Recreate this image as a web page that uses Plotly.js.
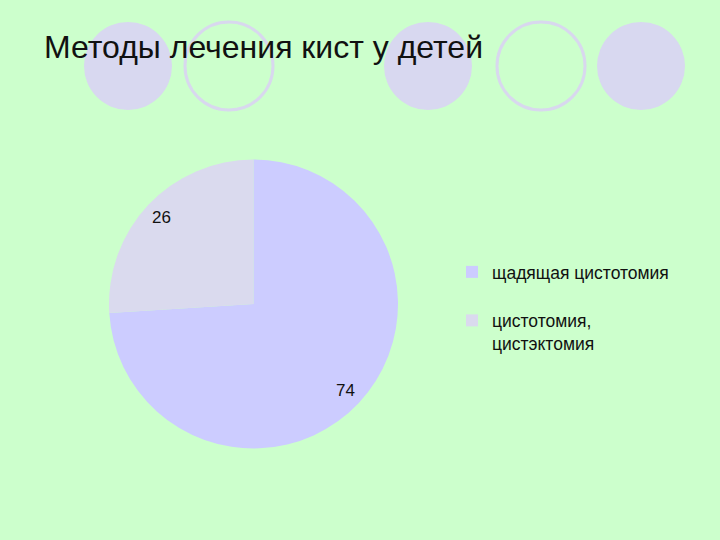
<!DOCTYPE html>
<html>
<head>
<meta charset="utf-8">
<script src="https://cdn.plot.ly/plotly-3.0.1.min.js"></script>
<style>html,body{margin:0;padding:0;background:#ccffcc;}#chart{width:720px;height:540px;}</style>
</head>
<body>
<div id="chart"></div>
<script>
const chartTitle = "Методы лечения кист у детей";
const categories = ["щадящая цистотомия<br> ", "цистотомия,<br>цистэктомия"];
const values = [74, 26];
const sliceColors = ["#ccccff", "#dadaee"];

const W = 720, H = 540;
const px = x => x / W;
const py = y => 1 - y / H;

// pie domain (pixels)
const pieL = 109, pieR = 398, pieT = 159, pieB = 449;
const pieCx = (pieL + pieR) / 2, pieCy = (pieT + pieB) / 2;
const pieRad = Math.min(pieR - pieL, pieB - pieT) / 2;

// decorative circles (pixel centers)
const deco = [
  {cx: 128, cy: 66, fill: true},
  {cx: 229, cy: 66, fill: false},
  {cx: 428, cy: 66, fill: true},
  {cx: 541, cy: 66, fill: false},
  {cx: 641, cy: 66, fill: true}
];
const r = 44;
const shapes = deco.map(d => ({
  type: "circle", xref: "paper", yref: "paper", layer: "below",
  x0: px(d.cx - r), x1: px(d.cx + r), y0: py(d.cy + r), y1: py(d.cy - r),
  fillcolor: d.fill ? "#d8d8f0" : "rgba(0,0,0,0)",
  line: {color: d.fill ? "rgba(0,0,0,0)" : "#d8d8ee", width: d.fill ? 0 : 3}
}));

// value labels placed near the outer edge along each slice's middle angle
const total = values.reduce((a, b) => a + b, 0);
let cum = 0;
const annotations = values.map(v => {
  const mid = (cum + v / 2) / total * 2 * Math.PI; // clockwise from top
  cum += v;
  const rr = 0.87 * pieRad;
  return {
    xref: "paper", yref: "paper", showarrow: false,
    x: px(pieCx + rr * Math.sin(mid)), y: py(pieCy - rr * Math.cos(mid)),
    xanchor: "center", yanchor: "middle",
    text: String(v),
    font: {family: "Liberation Sans, Arial, sans-serif", size: 17, color: "#111111"}
  };
});

const trace = {
  type: "pie",
  labels: categories,
  values: values,
  sort: false,
  direction: "clockwise",
  rotation: 0,
  marker: {colors: sliceColors, line: {width: 0}},
  textinfo: "none",
  domain: {x: [px(pieL), px(pieR)], y: [py(pieB), py(pieT)]},
  hoverinfo: "label+value"
};

const layout = {
  width: W, height: H,
  margin: {l: 0, r: 0, t: 0, b: 0},
  paper_bgcolor: "#ccffcc",
  plot_bgcolor: "#ccffcc",
  showlegend: true,
  title: {
    text: chartTitle,
    x: px(44), xanchor: "left", xref: "paper",
    y: py(47), yanchor: "middle", yref: "container",
    font: {family: "Liberation Sans, Arial, sans-serif", size: 32, color: "#111111"}
  },
  legend: {
    x: px(452), xanchor: "left",
    y: py(254), yanchor: "top",
    valign: "top",
    bgcolor: "rgba(0,0,0,0)",
    font: {family: "Liberation Sans, Arial, sans-serif", size: 17.5, color: "#111111"}
  },
  shapes: shapes,
  annotations: annotations
};

Plotly.newPlot("chart", [trace], layout, {displayModeBar: false, staticPlot: true});
</script>
</body>
</html>
